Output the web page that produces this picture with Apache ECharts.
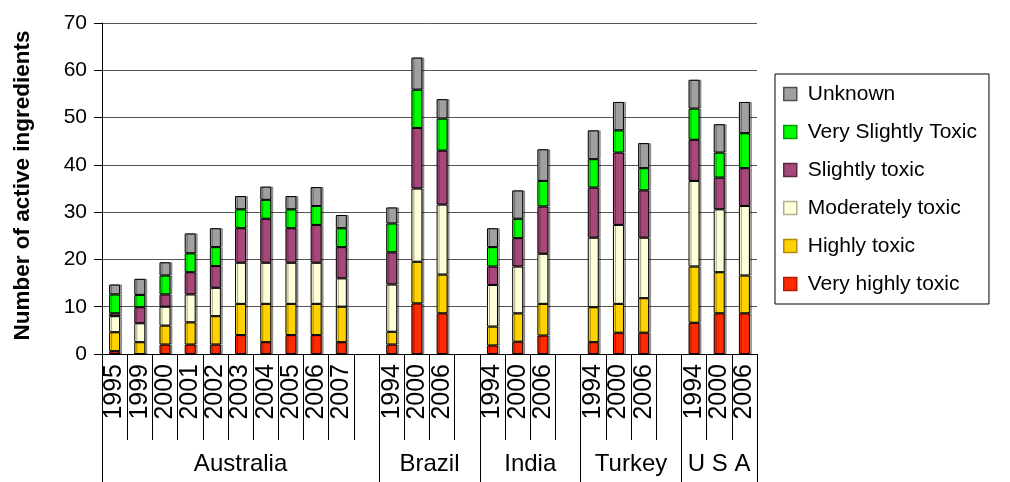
<!DOCTYPE html>
<html>
<head>
<meta charset="utf-8">
<script src="https://cdn.jsdelivr.net/npm/echarts@6/dist/echarts.min.js"></script>
<style>
  html, body { margin: 0; padding: 0; background: #fff; }
  #chart { width: 1010px; height: 482px; }
</style>
</head>
<body>
<div id="chart"></div>
<script>
// Year slots along the axis; '' marks the spacer slot closing each country block
const categories = ['1995','1999','2000','2001','2002','2003','2004','2005','2006','2007','',
                    '1994','2000','2006','',
                    '1994','2000','2006','',
                    '1994','2000','2006','',
                    '1994','2000','2006'];

// Country blocks: name, first slot, slot count (incl. spacer)
const groupNames = ['Australia', 'Brazil', 'India', 'Turkey', 'U S A'];
const groupStart = [0, 11, 15, 19, 23];
const groupSize  = [11, 4, 4, 4, 3];

// Number of active ingredients per toxicity class
const veryHighly   = [0.6, 0, 2.0, 2.0, 2.0, 4.0, 2.5, 4.0, 4.0, 2.5, '-', 2.0, 10.7, 8.6, '-', 1.8, 2.6, 3.9, '-', 2.5, 4.5, 4.5, '-', 6.6, 8.6, 8.6];
const highly       = [4.0, 2.5, 4.0, 4.7, 6.0, 6.6, 8.1, 6.6, 6.6, 7.5, '-', 2.7, 8.8, 8.2, '-', 4.0, 6.0, 6.7, '-', 7.4, 6.1, 7.3, '-', 11.9, 8.7, 8.0];
const moderately   = [3.4, 4.0, 4.0, 5.9, 6.0, 8.7, 8.7, 8.7, 8.7, 6.0, '-', 10.0, 15.5, 14.8, '-', 8.8, 9.9, 10.6, '-', 14.7, 16.7, 12.8, '-', 18.1, 13.3, 14.7];
const slightly     = [0.6, 3.4, 2.6, 4.7, 4.6, 7.3, 9.3, 7.3, 8.0, 6.6, '-', 6.8, 12.8, 11.4, '-', 3.9, 6.0, 10.0, '-', 10.6, 15.3, 10.0, '-', 8.7, 6.7, 8.0];
const verySlightly = [4.0, 2.6, 4.0, 4.0, 4.0, 4.0, 4.0, 4.0, 4.0, 4.0, '-', 6.1, 8.1, 6.8, '-', 4.1, 4.1, 5.4, '-', 6.0, 4.7, 4.7, '-', 6.6, 5.3, 7.4];
const unknown      = [2.1, 3.4, 2.8, 4.2, 4.0, 2.8, 2.8, 2.8, 4.0, 2.8, '-', 3.4, 6.8, 4.1, '-', 4.0, 6.0, 6.7, '-', 6.1, 6.0, 5.3, '-', 6.1, 6.0, 6.6];

const yTicks = [0, 10, 20, 30, 40, 50, 60, 70];

const classes = [
  { name: 'Very highly toxic',   data: veryHighly,   color: '#FF2A00', edge: '#B01E00' },
  { name: 'Highly toxic',        data: highly,       color: '#FFD200', edge: '#B08A00' },
  { name: 'Moderately toxic',    data: moderately,   color: '#FFFFD8', edge: '#B0B090' },
  { name: 'Slightly toxic',      data: slightly,     color: '#A6497A', edge: '#5E2844' },
  { name: 'Very Slightly Toxic', data: verySlightly, color: '#00FF00', edge: '#00A000' },
  { name: 'Unknown',             data: unknown,      color: '#A0A0A0', edge: '#505050' }
];

const FONT = '"Liberation Sans", Arial, sans-serif';

// Group boundaries and label centres on a 0..N slot scale
const nSlots = categories.length;
const groupEdges = groupStart.concat([nSlots]);
const groupCentres = groupStart.map((s, i) => s + groupSize[i] / 2);

const chart = echarts.init(document.getElementById('chart'), null, { renderer: 'canvas' });

chart.setOption({
  animation: false,
  backgroundColor: '#ffffff',
  textStyle: { fontFamily: FONT, color: '#000' },
  grid: { left: 102, right: 253, top: 23, bottom: 128, containLabel: false },
  legend: {
    orient: 'vertical',
    left: 775,
    top: 74,
    padding: [9, 12, 9, 8],
    borderColor: '#000',
    borderWidth: 1,
    itemWidth: 13,
    itemHeight: 13,
    itemGap: 16,
    icon: 'rect',
    textStyle: { fontFamily: FONT, fontSize: 21, lineHeight: 22, color: '#000', padding: [0, 0, 0, 6] },
    data: classes.slice().reverse().map(c => ({
      name: c.name,
      itemStyle: { color: c.color, borderColor: c.edge, borderWidth: 1.5 }
    }))
  },
  xAxis: [
    {
      type: 'category',
      data: categories,
      position: 'bottom',
      axisLine: { show: true, lineStyle: { color: '#000', width: 1 } },
      axisTick: { show: true, interval: 0, length: 86, lineStyle: { color: '#000', width: 1 } },
      axisLabel: {
        interval: 0, rotate: 90, margin: 10,
        fontFamily: FONT, fontSize: 25, color: '#000'
      },
      splitLine: { show: false }
    },
    {
      type: 'value',
      min: 0,
      max: nSlots,
      position: 'bottom',
      axisLine: { show: false },
      splitLine: { show: false },
      axisTick: {
        show: true, length: 128, customValues: groupEdges,
        lineStyle: { color: '#000', width: 1 }
      },
      axisLabel: {
        show: true, margin: 98, customValues: groupCentres,
        fontFamily: FONT, fontSize: 24, color: '#000',
        formatter: v => groupNames[groupCentres.indexOf(v)]
      }
    }
  ],
  yAxis: {
    type: 'value',
    min: yTicks[0],
    max: yTicks[yTicks.length - 1],
    interval: 10,
    name: 'Number of active ingredients',
    nameLocation: 'middle',
    nameGap: 68,
    nameRotate: 90,
    nameTextStyle: { fontFamily: FONT, fontWeight: 'bold', fontSize: 22.5, color: '#000', padding: [0, 0, 0, 6] },
    axisLine: { show: true, lineStyle: { color: '#000', width: 1 } },
    axisTick: { show: true, length: 8, lineStyle: { color: '#000' } },
    axisLabel: { margin: 15, fontFamily: FONT, fontSize: 21, color: '#000' },
    splitLine: { show: true, lineStyle: { color: '#555', width: 1 } }
  },
  series: classes.map(c => ({
    name: c.name,
    type: 'bar',
    stack: 'toxicity',
    xAxisIndex: 0,
    barWidth: 11,
    data: c.data,
    itemStyle: {
      color: c.color,
      borderColor: '#000',
      borderWidth: 1,
      shadowColor: 'rgba(0,0,0,0.35)',
      shadowOffsetX: 2,
      shadowOffsetY: 0,
      shadowBlur: 0
    },
    emphasis: { disabled: true }
  }))
});
</script>
</body>
</html>
